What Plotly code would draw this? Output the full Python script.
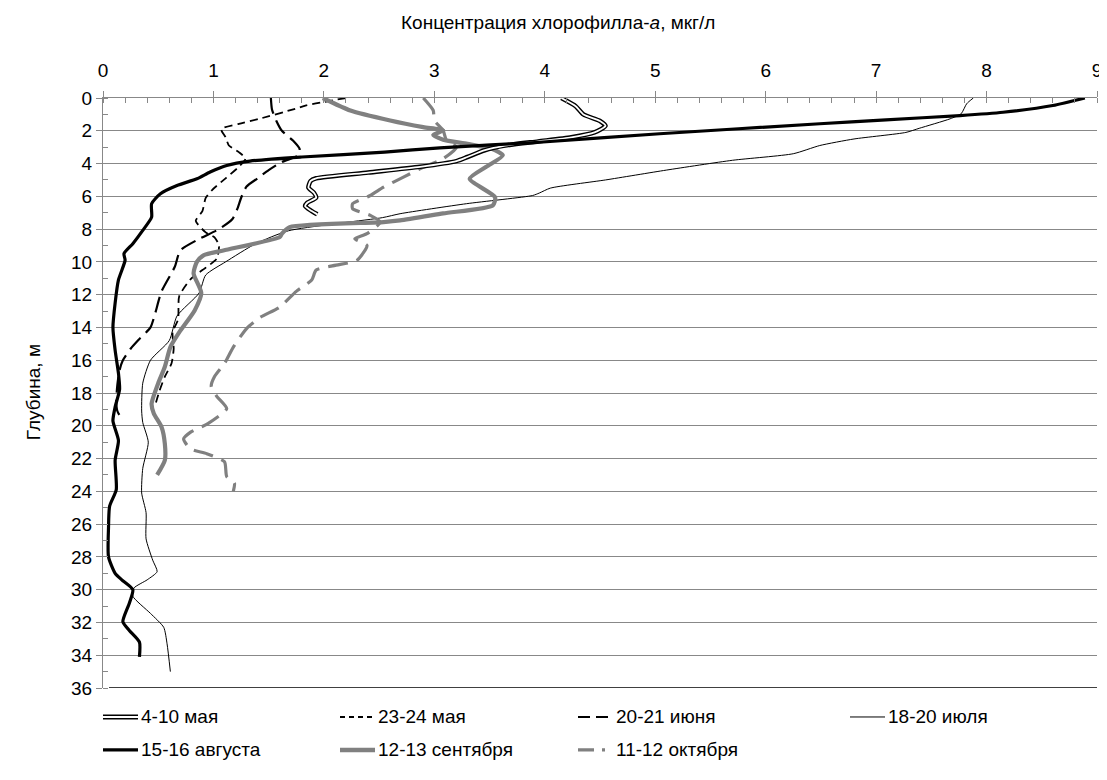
import plotly.graph_objects as go

# ---- data: chlorophyll-a concentration (mkg/l) vs depth (m) ----
may_4_10_depth = [0, 0.5, 1.0, 1.4, 1.7, 2.1, 2.4, 2.65, 2.9, 3.2, 3.6, 3.85, 4.2, 4.55, 4.9, 5.06, 5.47, 5.78, 6.08, 6.39, 6.6, 6.9, 7.1]
may_4_10_conc = [4.15, 4.28, 4.35, 4.5, 4.55, 4.45, 4.24, 3.94, 3.64, 3.45, 3.3, 3.2, 2.87, 2.4, 1.93, 1.88, 1.86, 1.91, 1.93, 1.85, 1.83, 1.89, 1.94]

may_23_24_depth = [0, 0.45, 0.66, 1.28, 1.58, 1.9, 2.4, 2.9, 3.3, 3.7, 4.2, 4.9, 5.6, 6.1, 6.9, 7.5, 8.2, 8.5, 9.0, 9.8, 10.5, 11.0, 12.1, 13.5, 14.3, 15.3, 16.2, 17.0, 17.9, 18.8]
may_23_24_conc = [2.2, 1.84, 1.74, 1.41, 1.23, 1.07, 1.11, 1.14, 1.23, 1.29, 1.23, 1.11, 0.99, 0.93, 0.9, 0.84, 0.93, 1.01, 1.05, 1.03, 0.9, 0.8, 0.69, 0.68, 0.63, 0.64, 0.62, 0.56, 0.51, 0.47]

june_20_21_depth = [0, 0.7, 1.4, 2.0, 2.6, 3.1, 3.5, 3.9, 4.4, 4.9, 5.4, 6.1, 6.7, 7.4, 8.0, 8.6, 9.3, 10.3, 11.8, 13.2, 14.0, 14.7, 15.3, 16.0, 16.6, 17.5, 18.5, 19.1, 19.7]
june_20_21_conc = [1.52, 1.53, 1.57, 1.62, 1.72, 1.78, 1.77, 1.62, 1.5, 1.4, 1.3, 1.25, 1.22, 1.17, 1.05, 0.87, 0.7, 0.65, 0.53, 0.47, 0.43, 0.33, 0.25, 0.18, 0.15, 0.13, 0.12, 0.13, 0.18]

july_18_20_depth = [0, 0.35, 0.96, 1.27, 1.85, 2.1, 2.5, 2.9, 3.4, 3.8, 4.4, 5.0, 5.5, 5.8, 5.95, 6.45, 7.06, 7.3, 8.1, 8.9, 10.0, 10.8, 11.9, 13.3, 14.8, 16.0, 17.4, 19.1, 19.8, 21.0, 22.6, 24.1, 25.3, 26.9, 28.2, 28.9, 29.4, 29.9, 30.4, 31.45, 32.3, 33.3, 35.0]
july_18_20_conc = [7.88, 7.82, 7.77, 7.67, 7.39, 7.27, 6.8, 6.49, 6.25, 5.7, 5.1, 4.55, 4.05, 3.95, 3.89, 3.29, 2.69, 2.53, 1.68, 1.38, 1.11, 0.93, 0.87, 0.67, 0.6, 0.43, 0.36, 0.35, 0.36, 0.41, 0.36, 0.35, 0.39, 0.39, 0.45, 0.49, 0.4, 0.28, 0.27, 0.43, 0.55, 0.58, 0.61]

aug_15_16_depth = [0, 0.46, 0.87, 1.07, 1.33, 1.57, 2.18, 2.7, 3.04, 3.3, 3.6, 3.85, 4.12, 4.52, 4.93, 5.34, 5.84, 6.45, 7.27, 8.08, 8.89, 9.5, 9.9, 11.1, 12.5, 14.0, 15.4, 16.8, 17.8, 18.85, 19.7, 20.9, 22.1, 23.9, 24.9, 26.2, 28.0, 29.0, 29.4, 30.0, 30.8, 31.96, 32.5, 33.2, 34.1]
aug_15_16_conc = [8.89, 8.6, 8.15, 7.76, 7.09, 6.49, 5.04, 3.95, 3.05, 2.55, 1.8, 1.33, 1.12, 0.97, 0.85, 0.67, 0.52, 0.44, 0.44, 0.36, 0.27, 0.19, 0.2, 0.14, 0.11, 0.09, 0.11, 0.14, 0.15, 0.11, 0.09, 0.14, 0.11, 0.12, 0.06, 0.05, 0.05, 0.11, 0.17, 0.27, 0.24, 0.18, 0.24, 0.33, 0.33]

sep_12_13_depth = [0, 0.76, 1.37, 1.78, 1.98, 2.25, 2.55, 2.8, 3.1, 3.5, 4.2, 4.93, 6.05, 6.55, 7.04, 7.47, 7.57, 7.88, 8.28, 8.49, 9.3, 9.6, 10.0, 10.7, 11.9, 12.96, 14.2, 15.2, 16.4, 17.4, 18.65, 19.25, 20.07, 21.1, 22.1, 23.0]
sep_12_13_conc = [1.99, 2.24, 2.6, 2.9, 3.08, 2.99, 3.08, 3.3, 3.52, 3.62, 3.47, 3.32, 3.55, 3.53, 3.08, 2.69, 2.54, 1.69, 1.62, 1.6, 1.09, 0.91, 0.85, 0.82, 0.89, 0.83, 0.7, 0.61, 0.56, 0.5, 0.44, 0.46, 0.53, 0.56, 0.56, 0.49]

oct_11_12_depth = [0, 0.76, 1.37, 1.98, 2.59, 3.0, 3.7, 4.32, 4.83, 5.44, 5.95, 6.45, 6.76, 7.16, 7.57, 8.28, 8.59, 9.0, 9.9, 10.2, 10.5, 11.1, 11.8, 12.76, 13.4, 14.07, 15.2, 16.2, 17.0, 17.6, 18.2, 18.95, 19.87, 20.4, 20.8, 21.4, 21.7, 22.2, 23.1, 23.5, 24.0]
oct_11_12_conc = [2.9, 2.99, 3.0, 3.08, 3.11, 3.2, 3.08, 2.87, 2.72, 2.54, 2.42, 2.26, 2.26, 2.42, 2.51, 2.39, 2.28, 2.39, 2.3, 2.11, 1.93, 1.89, 1.75, 1.6, 1.42, 1.3, 1.18, 1.1, 1.01, 0.98, 1.03, 1.12, 0.95, 0.79, 0.73, 0.79, 0.94, 1.1, 1.12, 1.19, 1.18]

series_names = ["4-10 мая", "23-24 мая", "20-21 июня", "18-20 июля",
                "15-16 августа", "12-13 сентября", "11-12 октября"]

x_ticks = list(range(0, 10))
y_ticks = list(range(0, 37, 2))

FONT = "Liberation Sans, Arial, sans-serif"
FS = 19
GRID = "#888888"
GRAY = "#808080"

fig = go.Figure()

def add(xs, ys, name, color, width, dash="solid"):
    fig.add_trace(go.Scatter(x=xs, y=ys, name=name, mode="lines",
                             line=dict(color=color, width=width, dash=dash,
                                       shape="spline", smoothing=0.6),
                             showlegend=False, hoverinfo="name+x+y"))

add(july_18_20_conc, july_18_20_depth, series_names[3], "black", 1)
add(may_23_24_conc, may_23_24_depth, series_names[1], "black", 1.8, "8px,5px")
add(june_20_21_conc, june_20_21_depth, series_names[2], "black", 2.2, "16px,7px")
add(oct_11_12_conc, oct_11_12_depth, series_names[6], GRAY, 3.2, "20px,9px")
add(sep_12_13_conc, sep_12_13_depth, series_names[5], GRAY, 4.2)
add(may_4_10_conc, may_4_10_depth, series_names[0], "black", 4.6)
add(may_4_10_conc, may_4_10_depth, series_names[0], "white", 1.8)
add(aug_15_16_conc, aug_15_16_depth, series_names[4], "black", 3.2)

# ---- page geometry (screen pixels; the page body adds an 8px offset) ----
OFF = 8
W, H = 1107 - OFF, 780 - OFF
L, R, T, B = 103, 1097, 97.5, 688          # plot area in screen pixels
ml, mr, mt, mb = L - OFF, 1107 - R, T - OFF, 780 - B

def px(x):
    return (x - L) / (R - L)
def py(y):
    return (B - y) / (B - T)

legend_items = [
    (series_names[0], 103, 717, [("black", 5, "solid"), ("white", 1.8, "solid")]),
    (series_names[1], 340, 717, [("black", 1.8, "5px,4px")]),
    (series_names[2], 578, 717, [("black", 2.2, "12px,6px")]),
    (series_names[3], 850, 717, [("black", 1, "solid")]),
    (series_names[4], 103, 750, [("black", 3.2, "solid")]),
    (series_names[5], 340, 750, [(GRAY, 4.5, "solid")]),
    (series_names[6], 578, 750, [(GRAY, 3.2, "16px,8px,3px,20px")]),
]
shapes = []
annotations = []
for name, x0, y0, styles in legend_items:
    for c, w, d in styles:
        shapes.append(dict(type="line", xref="paper", yref="paper",
                           x0=px(x0), x1=px(x0 + 35), y0=py(y0), y1=py(y0),
                           line=dict(color=c, width=w, dash=d)))
    annotations.append(dict(xref="paper", yref="paper", x=px(x0 + 36), y=py(y0),
                            text=name, showarrow=False, xanchor="left", yanchor="middle",
                            font=dict(family=FONT, size=FS, color="black")))

# bottom axis line
shapes.append(dict(type="line", xref="paper", yref="y", x0=0.006, x1=1, y0=36, y1=36,
                   line=dict(color="black", width=1.5)))

annotations.append(dict(xref="paper", yref="paper", x=px(558), y=py(22),
                        text="Концентрация хлорофилла-<i>а</i>, мкг/л", showarrow=False,
                        xanchor="center", yanchor="middle",
                        font=dict(family=FONT, size=FS, color="black")))
annotations.append(dict(xref="paper", yref="paper", x=px(33), y=py(392),
                        text="Глубина, м", showarrow=False, textangle=-90,
                        xanchor="center", yanchor="middle",
                        font=dict(family=FONT, size=FS, color="black")))

fig.update_layout(
    width=W, height=H,
    margin=dict(l=ml, r=mr, t=mt, b=mb, pad=0, autoexpand=False),
    paper_bgcolor="white", plot_bgcolor="white",
    font=dict(family=FONT, size=FS, color="black"),
    shapes=shapes, annotations=annotations,
    showlegend=False,
)
fig.update_xaxes(side="top", range=[0, 9], tickvals=x_ticks, ticktext=[str(v) for v in x_ticks],
                 showgrid=False, zeroline=False, showline=True, linecolor=GRID, linewidth=1,
                 ticks="outside", ticklen=6, tickcolor=GRID, ticklabelstandoff=6,
                 minor=dict(dtick=0.2, tick0=0, ticks="inside", ticklen=5, tickcolor=GRID, showgrid=False),
                 tickfont=dict(family=FONT, size=FS, color="black"))
fig.update_yaxes(range=[36, 0], tickvals=y_ticks, ticktext=[str(v) for v in y_ticks],
                 showgrid=True, gridcolor=GRID, gridwidth=1, zeroline=False,
                 showline=True, linecolor=GRID, linewidth=1,
                 ticks="outside", ticklen=6, tickcolor=GRID,
                 minor=dict(dtick=1, tick0=0, ticks="inside", ticklen=5, tickcolor=GRID, showgrid=False),
                 tickfont=dict(family=FONT, size=FS, color="black"))

fig.write_html("out.html")
